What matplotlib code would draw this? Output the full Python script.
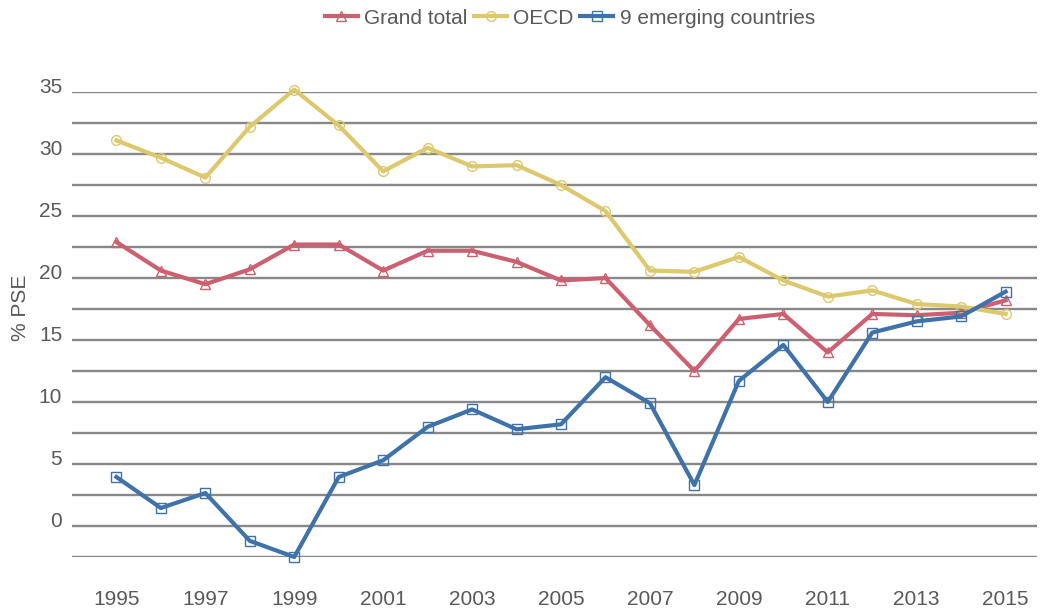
import matplotlib.pyplot as plt
import matplotlib.transforms as mtransforms
from matplotlib.ticker import MultipleLocator

plt.rcParams['font.family'] = ['Liberation Sans', 'DejaVu Sans']

years = list(range(1995, 2016))
grand_total = [22.9, 20.6, 19.5, 20.7, 22.7, 22.7, 20.6, 22.2, 22.2, 21.3, 19.8,
               20.0, 16.2, 12.5, 16.7, 17.1, 14.0, 17.1, 17.0, 17.2, 18.2]
oecd = [31.1, 29.7, 28.1, 32.2, 35.2, 32.3, 28.6, 30.5, 29.0, 29.1, 27.5,
        25.4, 20.6, 20.5, 21.7, 19.8, 18.5, 19.0, 17.9, 17.7, 17.1]
emerging = [3.95, 1.45, 2.66, -1.2, -2.5, 3.95, 5.3, 8.0, 9.4, 7.8, 8.2,
            12.0, 9.9, 3.3, 11.7, 14.6, 10.0, 15.6, 16.5, 16.9, 18.9]

text_color = '#595959'

fig = plt.figure(figsize=(10.43, 6.11), dpi=100)
ax = fig.add_axes([0.069, 0.0884, 0.925, 0.761])

series = [
    ('Grand total', grand_total, '#cc6070', '^'),
    ('OECD', oecd, '#dcc96e', 'o'),
    ('9 emerging countries', emerging, '#3f72a9', 's'),
]
for name, vals, color, marker in series:
    ax.plot(years, vals, color=color, lw=3, marker=marker, markersize=7,
            markerfacecolor='none', markeredgecolor=color, markeredgewidth=1.0,
            label=name, clip_on=False, zorder=3)

ax.set_xlim(1994.0, 2015.7)
ax.set_ylim(-2.5, 35)
ax.yaxis.set_major_locator(MultipleLocator(5))
ax.yaxis.set_minor_locator(MultipleLocator(2.5))
ax.grid(which='both', axis='y', color='#888888', lw=1.7)
ax.set_axisbelow(True)
ax.set_xticks(years[::2])

for s in ax.spines.values():
    s.set_visible(False)
ax.tick_params(axis='both', which='both', length=0, labelsize=15, colors=text_color)
ax.tick_params(axis='y', pad=7)
ax.tick_params(axis='x', pad=24)

offset = mtransforms.ScaledTranslation(0, 5 / 72, fig.dpi_scale_trans)
for lbl in ax.get_yticklabels():
    lbl.set_transform(lbl.get_transform() + offset)

ax.set_ylabel('% PSE', fontsize=15, color=text_color)
ax.yaxis.set_label_coords(-0.044, 0.535)

ax.legend(loc='center', bbox_to_anchor=(0.516, 1.159), ncol=3, frameon=False,
          fontsize=15, labelcolor=text_color, handlelength=1.6, handletextpad=0.3,
          columnspacing=0.3)

fig.savefig('out.png', dpi=100)
